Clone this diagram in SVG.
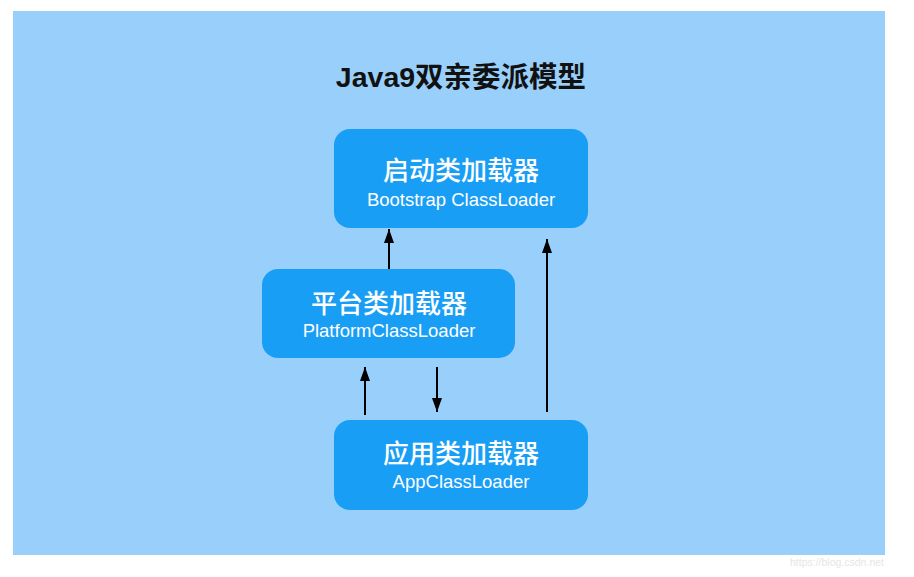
<svg xmlns="http://www.w3.org/2000/svg" width="914" height="577" viewBox="0 0 914 577">
  <style>
    .node { fill: #199EF5; }
    .cn { font-family: "Noto Sans CJK SC", "Liberation Sans", sans-serif; font-size: 26px; font-weight: 500; fill: #ffffff; text-anchor: middle; }
    .en { font-family: "Liberation Sans", "Noto Sans CJK SC", sans-serif; font-size: 18.5px; fill: #ffffff; text-anchor: middle; }
    .title { font-family: "Liberation Sans", "Noto Sans CJK SC", sans-serif; font-size: 28.5px; font-weight: bold; fill: #111111; text-anchor: middle; }
    .edge { stroke: #000000; stroke-width: 2; fill: none; marker-end: url(#arrow); }
  </style>
  <defs>
    <marker id="arrow" viewBox="0 0 14 10" refX="14" refY="5" markerWidth="14" markerHeight="10" markerUnits="userSpaceOnUse" orient="auto">
      <path d="M0,0 L14,5 L0,10 z" fill="#000000"/>
    </marker>
  </defs>
  <rect x="0" y="0" width="914" height="577" fill="#ffffff"/>
  <rect x="13" y="11" width="872" height="544" fill="#99CFFB"/>
  <text class="title" x="461" y="87">Java9双亲委派模型</text>

  <g id="bootstrap">
    <rect class="node" x="334" y="129" width="254" height="99" rx="16"/>
    <text class="cn" x="461" y="180">启动类加载器</text>
    <text class="en" x="461" y="206">Bootstrap ClassLoader</text>
  </g>
  <g id="platform">
    <rect class="node" x="262" y="269" width="253" height="89" rx="16"/>
    <text class="cn" x="389" y="313">平台类加载器</text>
    <text class="en" x="389" y="337">PlatformClassLoader</text>
  </g>
  <g id="app">
    <rect class="node" x="334" y="420" width="254" height="90" rx="16"/>
    <text class="cn" x="461" y="463">应用类加载器</text>
    <text class="en" x="461" y="488">AppClassLoader</text>
  </g>

  <g id="connectors">
    <line class="edge" x1="389" y1="269" x2="389" y2="229"/>
    <line class="edge" x1="365" y1="415" x2="365" y2="367"/>
    <line class="edge" x1="437" y1="367" x2="437" y2="412"/>
    <line class="edge" x1="547" y1="412" x2="547" y2="239"/>
  </g>

  <text x="790" y="566" font-family="Liberation Sans, sans-serif" font-size="10.5" fill="#E6E6E6">https://blog.csdn.net</text>
</svg>
